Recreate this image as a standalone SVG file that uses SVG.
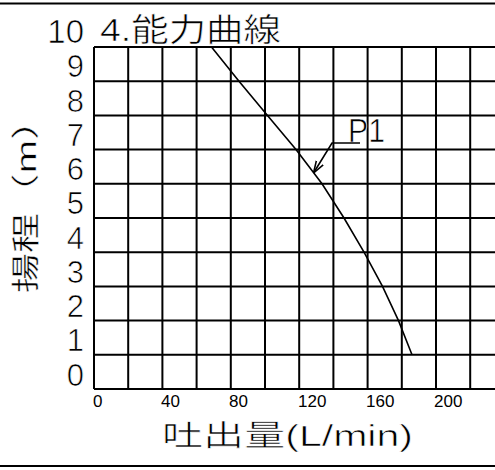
<svg xmlns="http://www.w3.org/2000/svg" width="495" height="470" viewBox="0 0 495 470">
<style>
.g{stroke:#000;stroke-width:2;fill:none}
.c{stroke:#000;stroke-width:1.6;fill:none}
.t{font-family:"Liberation Sans","Noto Sans CJK JP",sans-serif;fill:#000;stroke:#fff;stroke-width:0.6px}
.d{font-family:"Liberation Sans","DejaVu Sans",sans-serif;fill:#000;stroke:#fff;stroke-width:0.7px}
.yn{font-size:31px;text-anchor:end}
.xn{font-size:17px;stroke:none}
</style>
<defs>
<marker id="arr" viewBox="0 0 12 10" refX="12" refY="5" markerWidth="12" markerHeight="10" markerUnits="userSpaceOnUse" orient="auto">
<path d="M0,1 L12,5 L0,9" fill="none" stroke="#000" stroke-width="1.6"/>
</marker>
</defs>
<g id="frame">
<line class="g" x1="0" y1="3.5" x2="495" y2="3.5"/>
<line class="g" x1="0" y1="466" x2="495" y2="466"/>
</g>
<g id="grid">
<path class="g" d="M94,47H495M94,81.2H495M94,115.4H495M94,149.6H495M94,183.8H495M94,218H495M94,252.2H495M94,286.4H495M94,320.6H495M94,354.8H495M94,389H495"/>
<path class="g" d="M94,47V389M128.2,47V389M162.4,47V389M196.6,47V389M230.8,47V389M265,47V389M299.2,47V389M333.4,47V389M367.6,47V389M401.8,47V389M436,47V389M470.2,47V389"/>
</g>
<g id="title">
<text class="t" x="100" y="41" font-size="32" textLength="181" lengthAdjust="spacingAndGlyphs">4.能力曲線</text>
</g>
<g id="y-axis-labels" class="d yn">
<text x="84" y="43" font-size="33">10</text>
<text x="84" y="77">9</text>
<text x="84" y="112">8</text>
<text x="84" y="146">7</text>
<text x="84" y="180">6</text>
<text x="84" y="214">5</text>
<text x="84" y="249">4</text>
<text x="84" y="283">3</text>
<text x="84" y="317">2</text>
<text x="84" y="351">1</text>
<text x="84" y="386">0</text>
</g>
<g id="x-axis-labels" class="d xn">
<text x="93" y="407">0</text>
<text x="161" y="407">40</text>
<text x="229" y="407">80</text>
<text x="298" y="407">120</text>
<text x="366" y="407">160</text>
<text x="434" y="407">200</text>
</g>
<g id="axis-titles">
<text class="t" x="162" y="446" font-size="29" textLength="251" lengthAdjust="spacingAndGlyphs">吐出量(L/min)</text>
<text class="t" transform="translate(36,293) rotate(-90)" font-size="28" textLength="193" lengthAdjust="spacingAndGlyphs" style="stroke-width:0.4px">揚程（m）</text>
</g>
<g id="curve-P1">
<path class="c" d="M211.5,47 L239,81.2 L267.5,115.4 L296,149.6 L322,183.8 L344,218 L364,252.2 L382.5,286.4 L398.5,320.6 L412,354.8"/>
</g>
<g id="label-P1">
<text class="d" x="348" y="142" font-size="33" textLength="37" lengthAdjust="spacingAndGlyphs">P1</text>
</g>
<g id="connectors">
<path class="c" d="M360,143 H332 L313.5,173" marker-end="url(#arr)"/>
</g>
</svg>
